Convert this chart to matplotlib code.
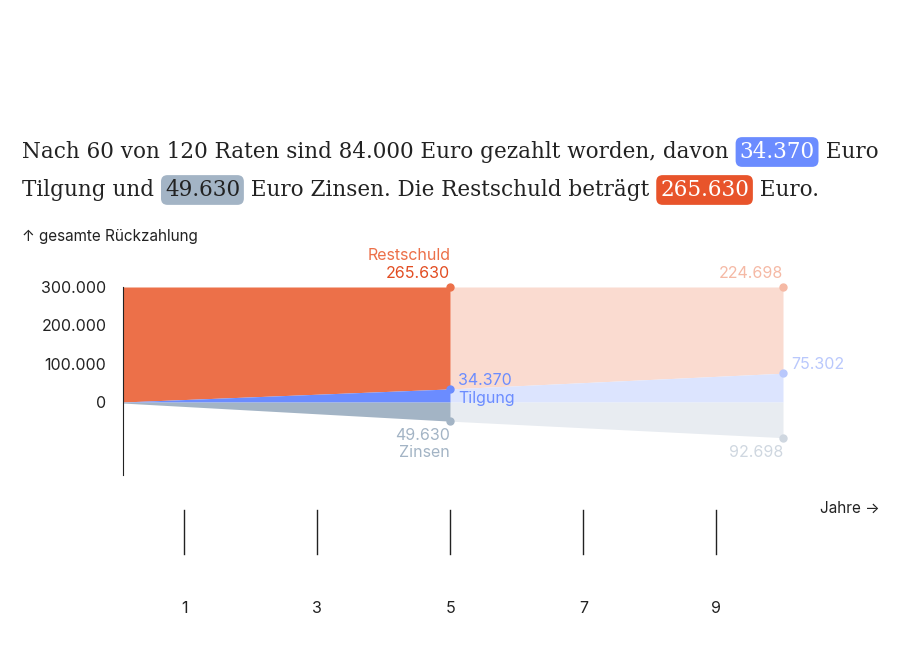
import matplotlib
matplotlib.use("Agg")
import matplotlib.pyplot as plt

# years (month 1 .. month 120), cumulative values
years = [1 / 12, 5, 10]
total = [300000, 300000, 300000]
tilgung = [280, 34370, 75302]
zinsen = [-2500, -49630, -92698]
restschuld = [t - a for t, a in zip(total, tilgung)]
xticks = [1, 3, 5, 7, 9]
yticks = [0, 100000, 200000, 300000]
ylabels = ["0", "100.000", "200.000", "300.000"]

ORANGE, ORANGE_L = "#ec7049", "#fadbd0"
BLUE, BLUE_L = "#6b8cff", "#dce4fe"
GRAY, GRAY_L = "#a3b4c5", "#e8ecf1"
SANS = ["Inter", "DejaVu Sans"]

fig = plt.figure(figsize=(9, 6.5), dpi=100)
W, H = 900, 650
ax = fig.add_axes([123 / W, 1 - 475 / H, (783 - 123) / W, (475 - 287) / H])
ax.set_xlim(years[0], years[-1])
ax.set_ylim(-190000, 300000)

past = slice(0, 2)
fut = slice(1, 3)
for sl, co, cb, cg in [(past, ORANGE, BLUE, GRAY), (fut, ORANGE_L, BLUE_L, GRAY_L)]:
    ax.fill_between(years[sl], tilgung[sl], total[sl], color=co, lw=0)
    ax.fill_between(years[sl], 0, tilgung[sl], color=cb, lw=0)
    ax.fill_between(years[sl], zinsen[sl], 0, color=cg, lw=0)

for y, c in [(total, ORANGE), (tilgung, BLUE), (zinsen, GRAY)]:
    ax.plot(years[1], y[1], "o", color=c, ms=5, clip_on=False)
for y, c in [(total, "#f5b9a5"), (tilgung, "#b9c8fc"), (zinsen, "#cfd7e0")]:
    ax.plot(years[2], y[2], "o", color=c, ms=5, clip_on=False)

for s in ["top", "right", "bottom"]:
    ax.spines[s].set_visible(False)
ax.spines["left"].set_color("#222222")
ax.set_yticks(yticks)
ax.set_yticklabels(ylabels, fontsize=11.5, family=SANS, color="#222222")
ax.tick_params(axis="y", length=0, pad=12)
ax.set_xticks([])
for xt in xticks:
    ax.plot([xt, xt], [-190000 - 0.035e6 * 4.9 / 1.9, -190000 - 0.08e6 * 4.9 / 1.9], color="#222222",
            lw=1, clip_on=False)
    ax.text(xt, -190000 - 0.135e6 * 4.9 / 1.9, str(xt), ha="center", va="center",
            fontsize=11.5, family=SANS, color="#222222")


def lab(x, y, s, c, ha):
    ax.text(x, y, s, color=c, ha=ha, va="center", fontsize=11.5, family=SANS)


px = 490000 / 188  # data units per pixel in y
xpx = (10 - 1 / 12) / 660
lab(5, 300000 + 31 * px, "Restschuld", ORANGE, "right")
lab(5, 300000 + 14 * px, "265.630", "#e24d22", "right")
lab(10, 300000 + 14 * px, "224.698", "#f5b9a5", "right")
lab(5 + 8 * xpx, 22 * px, "34.370", BLUE, "left")
lab(5 + 8 * xpx, 4 * px, "Tilgung", BLUE, "left")
lab(10 + 8 * xpx, 38 * px, "75.302", "#b9c8fc", "left")
lab(5, -33 * px, "49.630", GRAY, "right")
lab(5, -50 * px, "Zinsen", GRAY, "right")
lab(10, -50 * px, "92.698", "#cfd7e0", "right")

fig.text(22 / W, 1 - 236 / H, "↑ gesamte Rückzahlung", fontsize=11, family=SANS,
         color="#222222", va="center")
fig.text(880 / W, 1 - 508 / H, "Jahre →", fontsize=11, family=SANS,
         color="#222222", va="center", ha="right")

# sentence with badges
fig.canvas.draw()
renderer = fig.canvas.get_renderer()
SERIF = ["DejaVu Serif"]


def sentence(y, parts):
    x = 22
    for s, bg in parts:
        kw = dict(fontsize=15.5, family=SERIF, va="center", color="#222222")
        if bg:
            kw["bbox"] = dict(boxstyle="round,pad=0.18,rounding_size=0.3", fc=bg, ec="none")
            kw["color"] = "white" if bg != GRAY else "#222222"
            x += 4
        t = fig.text(x / W, 1 - y / H, s, **kw)
        x += t.get_window_extent(renderer).width + (4 if bg else 0)


sentence(152, [("Nach 60 von 120 Raten sind 84.000 Euro gezahlt worden, davon ", None),
               ("34.370", BLUE), (" Euro", None)])
sentence(190, [("Tilgung und ", None), ("49.630", GRAY),
               (" Euro Zinsen. Die Restschuld beträgt ", None),
               ("265.630", "#e8542b"), (" Euro.", None)])

fig.savefig("out.png", dpi=100)
